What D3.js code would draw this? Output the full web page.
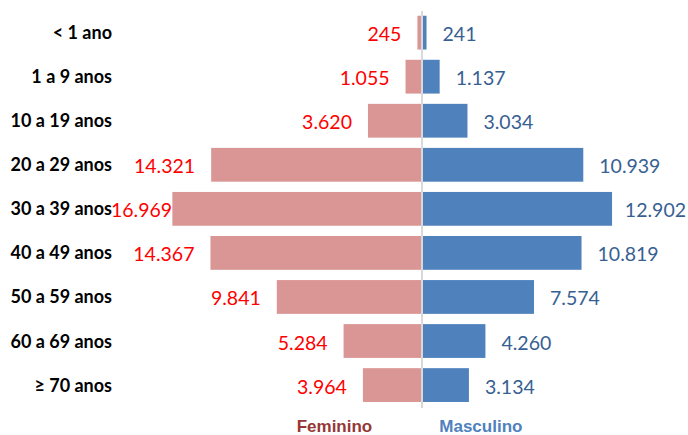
<meta charset="utf-8">
<title>Piramide</title>
<body style="margin:0;background:#fff">
<script src="https://d3js.org/d3.v7.min.js"></script>
<script>

var width = 688;
var height = 435;

// data
var faixas = ['< 1 ano', '1 a 9 anos', '10 a 19 anos', '20 a 29 anos', '30 a 39 anos',
              '40 a 49 anos', '50 a 59 anos', '60 a 69 anos', '\u2265 70 anos'];
var feminino = [245, 1055, 3620, 14321, 16969, 14367, 9841, 5284, 3964];
var masculino = [241, 1137, 3034, 10939, 12902, 10819, 7574, 4260, 3134];
var legenda = ['Feminino', 'Masculino'];

var centro = 422;
var plotLeft = 111;
var plotRight = 686;
var fmt = d3.formatLocale({decimal: ',', thousands: '.', grouping: [3]}).format(',d');

var svg = d3.select('body').append('svg')
  .attr('width', width)
  .attr('height', height)
  .style('display', 'block');

var y = d3.scaleBand()
  .domain(faixas)
  .range([10.6, 407.1])
  .paddingInner(0.233)
  .paddingOuter(0.1165);

var x = d3.scaleLinear()
  .domain([0, 17000])
  .range([0, 249.1]);

// barras femininas
svg.append('g').selectAll('rect')
  .data(feminino)
  .enter().append('rect')
    .attr('x', function(d){ return centro - 1 - x(d); })
    .attr('y', function(d,i){ return y(faixas[i]); })
    .attr('width', function(d){ return x(d); })
    .attr('height', y.bandwidth())
    .style('fill', '#D99694');

// barras masculinas
svg.append('g').selectAll('rect')
  .data(masculino)
  .enter().append('rect')
    .attr('x', centro + 1)
    .attr('y', function(d,i){ return y(faixas[i]); })
    .attr('width', function(d){ return x(d); })
    .attr('height', y.bandwidth())
    .style('fill', '#4F81BD');

// eixo central
svg.append('line')
  .attr('x1', centro).attr('x2', centro)
  .attr('y1', 11).attr('y2', 408)
  .style('stroke', '#D9D9D9')
  .style('stroke-width', 2);

// rótulos das faixas
svg.append('g').selectAll('text')
  .data(faixas)
  .enter().append('text')
    .attr('x', plotLeft + 1)
    .attr('y', function(d){ return y(d) + y.bandwidth()/2 + 6.5; })
    .attr('text-anchor', 'end')
    .style('font-family', 'Lato, sans-serif')
    .style('font-weight', 'bold')
    .style('font-size', '18px')
    .style('fill', '#000')
    .text(function(d){ return d; });

// valores femininos
svg.append('g').selectAll('text')
  .data(feminino)
  .enter().append('text')
    .attr('y', function(d,i){ return y(faixas[i]) + y.bandwidth()/2 + 8.5; })
    .attr('text-anchor', 'end')
    .style('font-family', 'Lato, sans-serif')
    .style('font-size', '19.5px')
    .style('fill', '#FF0000')
    .text(function(d){ return fmt(d); })
    .attr('x', function(d){
      var w = this.getComputedTextLength();
      var pos = centro - 1 - x(d) - 16;
      return Math.max(pos, plotLeft + w);
    });

// valores masculinos
svg.append('g').selectAll('text')
  .data(masculino)
  .enter().append('text')
    .attr('y', function(d,i){ return y(faixas[i]) + y.bandwidth()/2 + 8.5; })
    .style('font-family', 'Lato, sans-serif')
    .style('font-size', '19.5px')
    .style('fill', '#376092')
    .text(function(d){ return fmt(d); })
    .attr('x', function(d){
      var w = this.getComputedTextLength();
      var pos = centro + 1 + x(d) + 16;
      return Math.min(pos, plotRight - w);
    });

// legenda
svg.append('text')
  .attr('x', 296.7).attr('y', 431.5)
  .style('font-family', '"Liberation Sans", Arial, sans-serif')
  .style('font-weight', 'bold')
  .style('font-size', '17px')
  .style('fill', '#953735')
  .text(legenda[0]);
svg.append('text')
  .attr('x', 439.3).attr('y', 431.5)
  .style('font-family', '"Liberation Sans", Arial, sans-serif')
  .style('font-weight', 'bold')
  .style('font-size', '17px')
  .style('fill', '#4F81BD')
  .text(legenda[1]);
</script>
